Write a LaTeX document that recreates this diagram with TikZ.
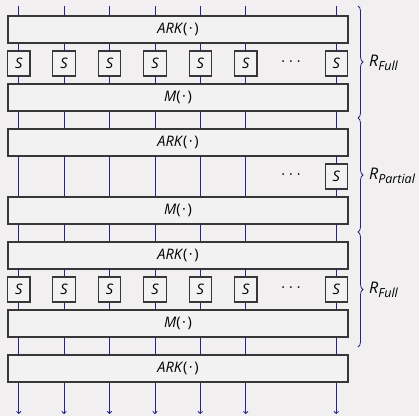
\documentclass[tikz,border=0pt]{standalone}
\usepackage{fontspec}
\setmainfont{Open Sans}
\usetikzlibrary{arrows.meta,decorations.pathreplacing}
\definecolor{bgc}{RGB}{241,239,239}
\definecolor{boxc}{RGB}{243,242,242}
\definecolor{wirec}{RGB}{35,35,140}
\definecolor{edgec}{RGB}{55,55,55}
\tikzset{
  wide/.style={draw=edgec,line width=1.1pt,fill=boxc,minimum width=340pt,minimum height=27pt,inner sep=0pt,font=\fontsize{14.5}{14.5}\selectfont},
  sbox/.style={draw=edgec,line width=1.1pt,fill=boxc,minimum width=22.5pt,minimum height=25pt,inner sep=0pt,font=\fontsize{14.5}{14.5}\selectfont\itshape},
  wire/.style={draw=wirec,line width=0.8pt},
  brc/.style={draw=wirec,line width=0.8pt,decorate,decoration={brace,amplitude=5pt}},
  lbl/.style={anchor=west,inner sep=0pt,font=\fontsize{16}{16}\selectfont},
  dotsn/.style={inner sep=0pt,font=\fontsize{14}{14}\selectfont}
}
\newcommand{\ark}{\textit{ARK}(\kern1.5pt·\kern1.5pt)}
\newcommand{\mm}{\textit{M}(\kern1.5pt·\kern1.5pt)}
\newcommand{\rlab}[1]{\textit{R}\raisebox{-4pt}{\fontsize{12.5}{12.5}\selectfont\textit{#1}}}
\newcommand{\hdots}{·\hspace{4pt}·\hspace{4pt}·}
\begin{document}
\begin{tikzpicture}[x=1pt,y=-1pt]
\fill[bgc] (0,0) rectangle (419,416);
\useasboundingbox (0,0) rectangle (419,416);
% wires
\foreach \i/\xx in {0/18.7,1/64.1,2/109.5,3/154.9,4/200.3,5/245.7,6/336.3}{
  \coordinate (t\i) at (\xx,6);
  \coordinate (b\i) at (\xx,414);
  \draw[wire,-{To[length=3pt,width=5pt]}] (t\i) -- (b\i);
}
% blocks
\foreach \k/\yb in {0/16,1/129,2/242}{
  \node[wide] (ark\k) at (178,\yb+13.5) {\ark};
  \node[wide] (m\k) at (178,\yb+81.5) {\mm};
}
\node[wide] (ark3) at (178,368.5) {\ark};
% S boxes full rounds
\foreach \k/\yb in {0/16,2/242}{
  \foreach \i/\xx in {0/18.7,1/64.1,2/109.5,3/154.9,4/200.3,5/245.7,6/336.3}{
    \node[sbox] (s\k\i) at (\xx,\yb+47.5) {S};
  }
  \node[dotsn] (d\k) at (291,\yb+47.5) {\hdots};
}
\node[sbox] (s16) at (336.3,176.5) {S};
\node[dotsn] (d1) at (291,176.5) {\hdots};
% braces
\coordinate (c0) at (358,6);
\coordinate (c1) at (358,118);
\coordinate (c2) at (358,232);
\coordinate (c3) at (358,347);
\draw[brc] (c0) -- (c1);
\draw[brc] (c1) -- (c2);
\draw[brc] (c2) -- (c3);
\node[lbl] (r0) at (369,63) {\rlab{Full}};
\node[lbl] (r1) at (369,176) {\rlab{Partial}};
\node[lbl] (r2) at (369,290) {\rlab{Full}};
\end{tikzpicture}
\end{document}
